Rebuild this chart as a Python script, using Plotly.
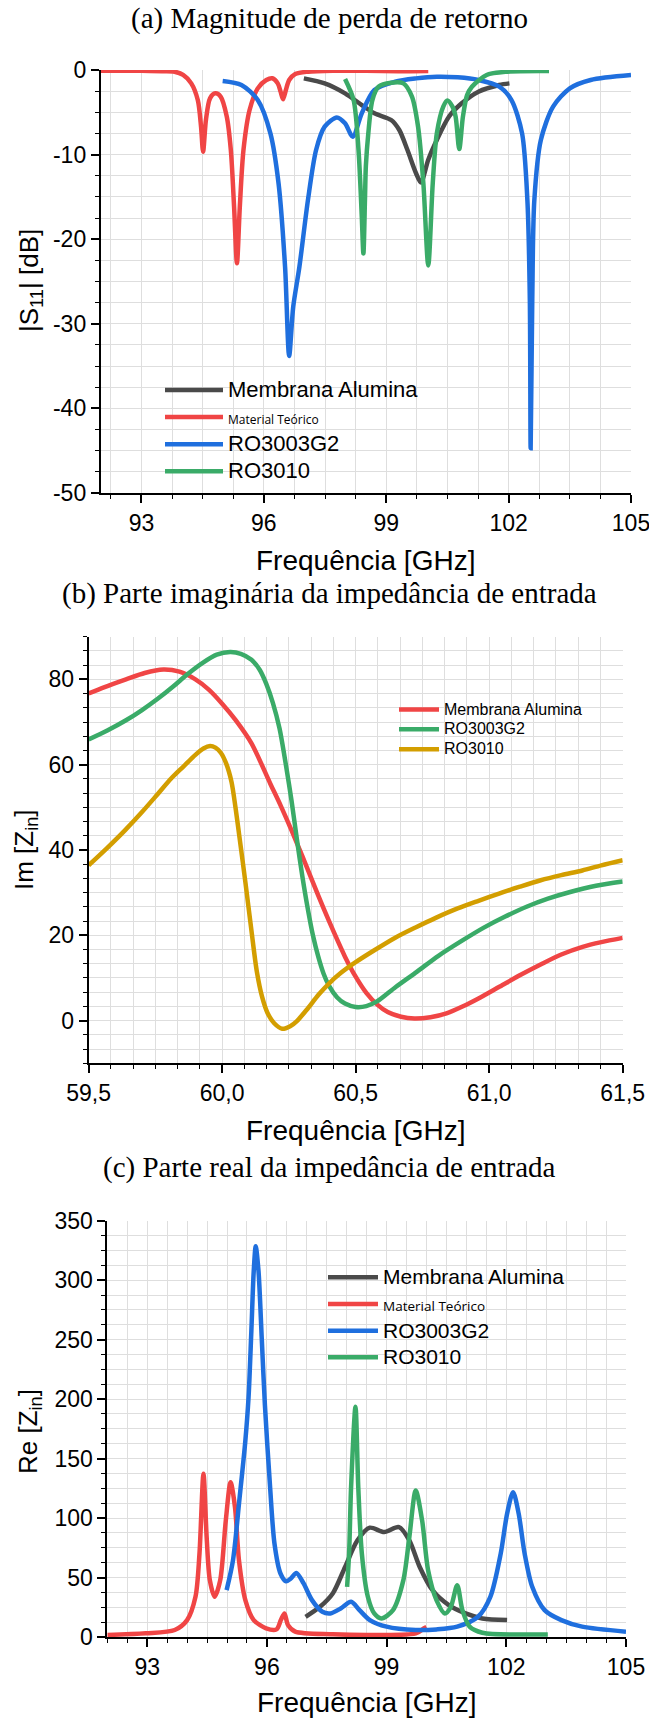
import plotly.graph_objects as go

W, H = 649, 1719

# ---------------- (a) |S11| return loss ----------------
s11_alumina_f = [96.98, 97.49, 97.99, 98.40, 98.71, 99.12, 99.32, 99.52, 99.73, 99.85, 100.03, 100.24, 100.54, 100.85, 101.26, 101.77, 102.02]
s11_alumina_db = [-0.99, -1.58, -2.76, -4.14, -5.12, -5.91, -7.09, -9.46, -12.2, -13.3, -10.6, -8.27, -5.5, -3.94, -2.56, -1.77, -1.58]

s11_teorico_f = [92.0, 93.0, 93.5, 93.81, 94.02, 94.22, 94.38, 94.46, 94.51, 94.58, 94.68, 94.81, 94.94, 95.09, 95.19, 95.27, 95.34, 95.41, 95.50, 95.65, 95.85, 96.06, 96.21, 96.34, 96.41, 96.47, 96.54, 96.62, 96.77, 97.08, 97.69, 98.5, 99.3, 100.03]
s11_teorico_db = [-0.08, -0.1, -0.15, -0.2, -0.59, -1.58, -3.55, -6.7, -9.65, -5.9, -3.35, -2.76, -3.15, -5.5, -9.46, -16.2, -22.85, -16.2, -9.46, -4.73, -2.17, -1.18, -0.98, -1.58, -2.56, -3.47, -2.36, -1.18, -0.47, -0.2, -0.08, -0.1, -0.15, -0.12]

s11_ro3003_f = [94.99, 95.45, 95.85, 96.16, 96.36, 96.52, 96.62, 96.72, 96.87, 97.08, 97.28, 97.49, 97.79, 97.99, 98.18, 98.40, 98.71, 99.22, 99.73, 100.24, 100.75, 101.26, 101.77, 102.07, 102.33, 102.46, 102.52, 102.54, 102.58, 102.63, 102.79, 103.09, 103.50, 104.01, 105.0]
s11_ro3003_db = [-1.3, -1.77, -3.55, -7.49, -13.4, -23.3, -33.8, -27.97, -23.3, -15.4, -9.46, -6.7, -5.6, -6.3, -7.88, -5.12, -2.36, -1.38, -0.99, -0.79, -0.87, -1.18, -1.97, -3.55, -7.49, -15.4, -27.2, -44.7, -27.0, -15.4, -8.27, -4.33, -2.17, -1.18, -0.59]

s11_ro3010_f = [97.99, 98.20, 98.32, 98.40, 98.44, 98.48, 98.50, 98.56, 98.66, 98.81, 99.12, 99.42, 99.63, 99.78, 99.91, 100.03, 100.14, 100.24, 100.40, 100.50, 100.62, 100.70, 100.79, 100.88, 100.98, 101.10, 101.46, 101.97, 102.99]
s11_ro3010_db = [-1.06, -3.55, -9.46, -17.3, -21.7, -15.0, -11.4, -7.5, -3.55, -1.97, -1.5, -1.58, -3.15, -6.7, -13.4, -23.1, -13.4, -7.49, -4.3, -3.6, -4.3, -5.5, -9.35, -5.5, -3.0, -1.97, -0.59, -0.2, -0.12]

s11_ticks = [-50, -40, -30, -20, -10, 0]
s11_ticktext = ["-50", "-40", "-30", "-20", "-10", "0"]

# ---------------- (b) Im[Zin] ----------------
im_alumina_f = [59.50, 59.56, 59.64, 59.71, 59.78, 59.84, 59.90, 59.95, 60.00, 60.05, 60.11, 60.18, 60.22, 60.26, 60.30, 60.34, 60.38, 60.42, 60.46, 60.50, 60.54, 60.58, 60.62, 60.67, 60.72, 60.78, 60.84, 60.90, 60.96, 61.04, 61.12, 61.20, 61.27, 61.35, 61.42, 61.50]
im_alumina = [76.7, 78.2, 80.0, 81.5, 82.3, 81.8, 80.0, 77.6, 74.3, 70.5, 65.0, 55.6, 50.3, 44.6, 38.6, 32.4, 26.3, 20.5, 15.0, 10.3, 6.5, 3.8, 2.0, 0.9, 0.5, 0.8, 1.7, 3.3, 5.2, 8.0, 10.8, 13.4, 15.5, 17.3, 18.4, 19.4]

im_ro3003_f = [59.50, 59.57, 59.64, 59.70, 59.76, 59.82, 59.87, 59.93, 59.98, 60.03, 60.07, 60.11, 60.14, 60.165, 60.19, 60.215, 60.24, 60.26, 60.28, 60.30, 60.32, 60.34, 60.36, 60.38, 60.40, 60.43, 60.46, 60.50, 60.54, 60.58, 60.65, 60.73, 60.81, 60.90, 60.98, 61.06, 61.14, 61.22, 61.30, 61.40, 61.50]
im_ro3003 = [65.9, 68.0, 70.4, 72.8, 75.5, 78.5, 81.2, 84.0, 85.8, 86.4, 86.0, 84.6, 82.3, 79.0, 74.5, 68.5, 59.5, 51.5, 42.5, 34.0, 26.5, 20.0, 15.0, 11.0, 8.2, 5.5, 4.0, 3.2, 3.4, 4.5, 7.9, 11.5, 15.2, 18.8, 21.8, 24.4, 26.7, 28.6, 30.1, 31.6, 32.6]

im_ro3010_f = [59.50, 59.57, 59.636, 59.70, 59.76, 59.81, 59.854, 59.90, 59.93, 59.955, 59.975, 59.995, 60.015, 60.035, 60.05, 60.065, 60.087, 60.11, 60.13, 60.15, 60.17, 60.195, 60.225, 60.255, 60.28, 60.32, 60.36, 60.40, 60.445, 60.50, 60.57, 60.65, 60.726, 60.80, 60.882, 60.96, 61.037, 61.115, 61.193, 61.27, 61.349, 61.42, 61.50]
im_ro3010 = [36.4, 40.5, 44.6, 48.9, 53.2, 56.8, 59.5, 62.3, 63.8, 64.4, 64.0, 62.8, 60.3, 56.0, 50.0, 43.0, 32.5, 21.0, 11.5, 5.5, 1.8, -0.6, -1.9, -1.3, -0.1, 2.8, 6.0, 8.7, 11.2, 13.7, 16.5, 19.5, 21.9, 24.1, 26.3, 28.1, 29.8, 31.4, 32.9, 34.1, 35.2, 36.4, 37.6]

# ---------------- (c) Re[Zin] ----------------
re_alumina_f = [96.97, 97.33, 97.65, 97.96, 98.27, 98.58, 98.94, 99.31, 99.57, 99.83, 100.15, 100.56, 100.98, 101.40, 102.02]
re_alumina = [17, 25.4, 36.6, 58.9, 81.3, 91.9, 88.2, 92.4, 81.3, 58.9, 39.4, 26.8, 19.8, 15.6, 14.2]

re_teorico_f = [92.0, 92.96, 93.69, 94.0, 94.21, 94.31, 94.41, 94.49, 94.57, 94.69, 94.83, 94.97, 95.09, 95.2, 95.3, 95.46, 95.67, 95.98, 96.24, 96.35, 96.44, 96.53, 96.71, 97.65, 98.69, 99.73, 99.94, 100.0]
re_teorico = [1.7, 3.1, 5.9, 14.2, 33.8, 70, 137.2, 84, 47.8, 33.8, 47.8, 98, 130.2, 109.2, 64.5, 31, 14.2, 7.3, 6.4, 14.2, 19.8, 10, 4.5, 2.3, 1.7, 3, 7.3, 8.4]

re_ro3003_f = [94.99, 95.15, 95.30, 95.46, 95.54, 95.61, 95.67, 95.72, 95.79, 95.87, 95.95, 96.08, 96.19, 96.34, 96.48, 96.6, 96.74, 96.92, 97.13, 97.39, 97.59, 97.85, 98.11, 98.32, 98.58, 99.0, 99.73, 100.25, 100.77, 101.29, 101.6, 101.86, 102.02, 102.17, 102.31, 102.46, 102.65, 102.96, 103.38, 103.9, 105.0]
re_ro3003 = [39.4, 64.5, 112, 165, 201.4, 257, 307.5, 328.5, 307.5, 251.7, 195, 126, 78.5, 53.4, 46.9, 49.2, 53.9, 45, 31, 21.2, 19.8, 24, 29.6, 22.6, 14.2, 8.7, 5.9, 6.4, 8.7, 17, 33.8, 70.1, 103.7, 121.8, 103.7, 70.1, 42.2, 22.6, 14.2, 8.7, 4.5]

re_ro3010_f = [98.01, 98.06, 98.11, 98.22, 98.29, 98.38, 98.53, 98.69, 98.87, 99.16, 99.42, 99.57, 99.73, 99.89, 100.04, 100.25, 100.46, 100.61, 100.77, 100.9, 101.08, 101.40, 103.04]
re_ro3010 = [42.2, 70, 126, 193.6, 126, 70, 33.8, 19.8, 15.6, 22.6, 47.8, 84, 123.2, 98, 56.1, 31, 19.8, 25.4, 43.6, 22.6, 8.7, 3.6, 2.2]

# colours
DARK = "#4a4a4a"
RED = "#f04545"
BLUE = "#1f6fde"
GREEN = "#3aab68"
GOLD = "#d39e00"
GRID = "#dedede"
LW = 4.5


def px(x):
    return x / W


def py(y):
    return 1 - y / H


def big(t, size):
    return f'<span style="font-size:{size}px">{t}</span>'


def small(t, size):
    return f"<span style=\"font-family:'Open Sans';font-size:{size}px\">{t}</span>"


fig = go.Figure()


def add(x, y, name, color, xa, ya, legend):
    fig.add_trace(go.Scatter(
        x=x, y=y, name=name, mode="lines",
        line=dict(color=color, width=LW, shape="spline", smoothing=0.8),
        xaxis=xa, yaxis=ya, legend=legend, legendgroup=f"{legend}-{name}",
    ))


add(s11_alumina_f, s11_alumina_db, big("Membrana Alumina", 22), DARK, "x", "y", "legend")
add(s11_teorico_f, s11_teorico_db, small("Material Teórico", 12), RED, "x", "y", "legend")
add(s11_ro3003_f, s11_ro3003_db, big("RO3003G2", 22), BLUE, "x", "y", "legend")
add(s11_ro3010_f, s11_ro3010_db, big("RO3010", 22), GREEN, "x", "y", "legend")

add(im_alumina_f, im_alumina, big("Membrana Alumina", 16), RED, "x2", "y2", "legend2")
add(im_ro3003_f, im_ro3003, big("RO3003G2", 16), GREEN, "x2", "y2", "legend2")
add(im_ro3010_f, im_ro3010, big("RO3010", 16), GOLD, "x2", "y2", "legend2")

add(re_alumina_f, re_alumina, big("Membrana Alumina", 21), DARK, "x3", "y3", "legend3")
add(re_teorico_f, re_teorico, small("Material Teórico", 13.5), RED, "x3", "y3", "legend3")
add(re_ro3003_f, re_ro3003, big("RO3003G2", 21), BLUE, "x3", "y3", "legend3")
add(re_ro3010_f, re_ro3010, big("RO3010", 21), GREEN, "x3", "y3", "legend3")

TICKFONT = dict(family="Liberation Sans, Arial", size=23, color="black")


def main_axis(rng, dtick, tick0, minor_dtick, domain, anchor, fmt=None, vals=None, text=None):
    d = dict(
        range=rng, dtick=dtick, tick0=tick0, domain=domain, anchor=anchor,
        ticks="outside", ticklen=8, tickwidth=1.6, tickcolor="black",
        showline=True, linecolor="black", linewidth=1.8,
        showgrid=True, gridcolor=GRID, gridwidth=1, zeroline=False,
        tickfont=TICKFONT, automargin=False, ticklabeloverflow="allow",
        minor=dict(dtick=minor_dtick, tick0=tick0, ticks="outside", ticklen=4,
                   tickwidth=1.4, tickcolor="black", showgrid=True,
                   gridcolor=GRID, gridwidth=1),
    )
    if fmt:
        d["tickformat"] = fmt
    if vals is not None:
        d["tickmode"] = "array"
        d["tickvals"] = vals
        d["ticktext"] = text
    return d


def mirror_axis(rng, dtick, tick0, minor_dtick, overlaying, anchor, side):
    return dict(
        range=rng, dtick=dtick, tick0=tick0, overlaying=overlaying, anchor=anchor,
        side=side, ticks="inside", ticklen=8, tickwidth=1.6, tickcolor="black",
        showline=True, linecolor="black", linewidth=1.8, showgrid=False,
        zeroline=False, showticklabels=False, automargin=False,
        minor=dict(dtick=minor_dtick, tick0=tick0, ticks="inside", ticklen=4,
                   tickwidth=1.4, tickcolor="black", showgrid=False),
    )


# plot-area boxes in pixels: (left, right, top, bottom)
box_a = (100.7, 631.0, 70.0, 493.0)
box_b = (88.6, 622.7, 636.7, 1063.3)
box_c = (107.3, 626.0, 1220.7, 1637.0)


def xdom(b):
    return [px(b[0]), px(b[1])]


def ydom(b):
    return [py(b[3]), py(b[2])]


ra_x, ra_y = [92, 105], [-50, 0]
rb_x, rb_y = [59.5, 61.5], [-10, 90]
rc_x, rc_y = [92, 105], [0, 350]

fig.update_layout(
    xaxis=main_axis(ra_x, 3, 93, 0.75, xdom(box_a), "y"),
    yaxis=main_axis(ra_y, 10, 0, 2.5, ydom(box_a), "x", vals=s11_ticks, text=s11_ticktext),
    xaxis2=main_axis(rb_x, 0.5, 59.5, 0.5 / 6, xdom(box_b), "y2", ".1f"),
    yaxis2=main_axis(rb_y, 20, 0, 20 / 6, ydom(box_b), "x2"),
    xaxis3=main_axis(rc_x, 3, 93, 0.5, xdom(box_c), "y3"),
    yaxis3=main_axis(rc_y, 50, 0, 12.5, ydom(box_c), "x3"),
    xaxis4=mirror_axis(ra_x, 3, 93, 0.75, "x", "y", "top"),
    yaxis4=mirror_axis(ra_y, 10, 0, 2.5, "y", "x", "right"),
    xaxis5=mirror_axis(rb_x, 0.5, 59.5, 0.5 / 6, "x2", "y2", "top"),
    yaxis5=mirror_axis(rb_y, 20, 0, 20 / 6, "y2", "x2", "right"),
    xaxis6=mirror_axis(rc_x, 3, 93, 0.5, "x3", "y3", "top"),
    yaxis6=mirror_axis(rc_y, 50, 0, 12.5, "y3", "x3", "right"),
)

LEGBASE = dict(bgcolor="rgba(0,0,0,0)", borderwidth=0, xanchor="left", yanchor="top",
               tracegroupgap=0)
fig.update_layout(
    legend=dict(LEGBASE, x=px(160), y=py(371.5), itemwidth=58,
                font=dict(family="Liberation Sans, Arial", color="black", size=18.5)),
    legend2=dict(LEGBASE, x=px(394), y=py(694.5), itemwidth=40,
                 font=dict(family="Liberation Sans, Arial", color="black", size=13)),
    legend3=dict(LEGBASE, x=px(323), y=py(1259), itemwidth=50,
                 font=dict(family="Liberation Sans, Arial", color="black", size=18.2)),
)

# white patches behind the "Material Teórico" legend labels
for (x0, x1, y0, y1) in [(222, 333, 404, 426), (380, 549, 1290, 1317)]:
    fig.add_shape(type="rect", xref="paper", yref="paper",
                  x0=px(x0), x1=px(x1), y0=py(y1), y1=py(y0),
                  fillcolor="white", line=dict(width=0), layer="between")

SERIF = dict(family="Liberation Serif, Times New Roman", size=29, color="black")
SANS = dict(family="Liberation Sans, Arial", size=28, color="black")

annots = [
    ("(a) Magnitude de perda de retorno", 329, 18, SERIF, 0),
    ("(b) Parte imaginária da impedância de entrada", 329, 593, SERIF, 0),
    ("(c) Parte real da impedância de entrada", 329, 1167, SERIF, 0),
    ("Frequência [GHz]", 366, 560, SANS, 0),
    ("Frequência [GHz]", 355.6, 1130, SANS, 0),
    ("Frequência [GHz]", 366.6, 1702, SANS, 0),
    ("|S<sub>11</sub>| [dB]", 30, 281, dict(SANS, size=26), -90),
    ("Im [Z<sub>in</sub>]", 26, 850, dict(SANS, size=26), -90),
    ("Re [Z<sub>in</sub>]", 29, 1431, dict(SANS, size=26), -90),
]
for text, x, y, font, ang in annots:
    fig.add_annotation(text=text, x=px(x), y=py(y), xref="paper", yref="paper",
                       xanchor="center", yanchor="middle", showarrow=False,
                       font=font, textangle=ang)

fig.update_layout(
    width=W, height=H, autosize=False,
    margin=dict(l=0, r=0, t=0, b=0, pad=0, autoexpand=False),
    paper_bgcolor="white", plot_bgcolor="white",
    separators=",.",
    showlegend=True,
)

fig.write_html("out.html")
